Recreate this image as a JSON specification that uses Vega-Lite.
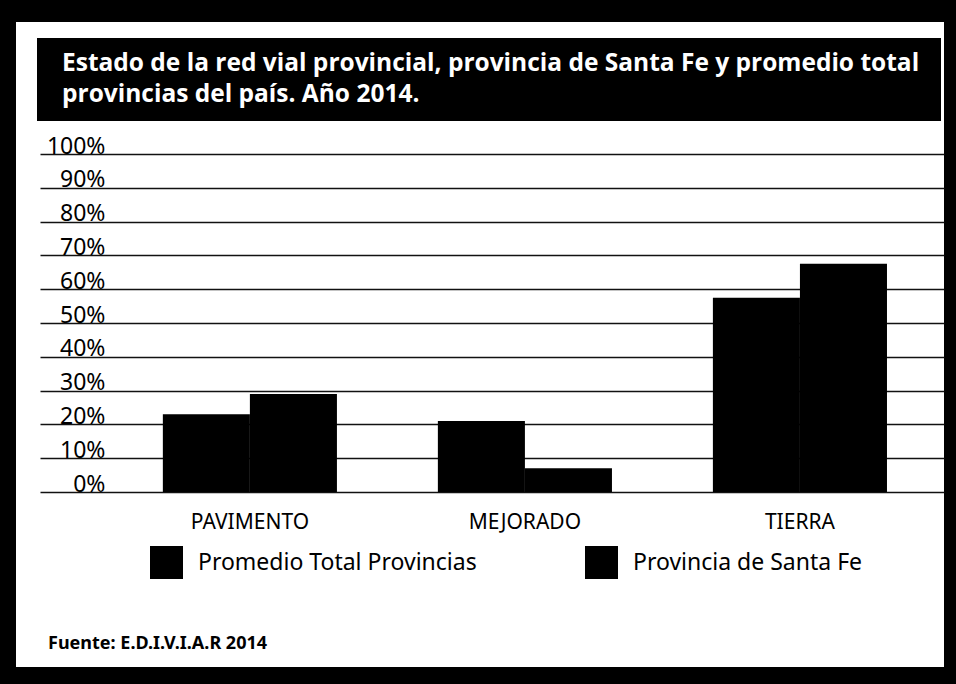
{
  "$schema": "https://vega.github.io/schema/vega-lite/v6.json",
  "background": "black",
  "padding": {"left": 16, "top": 22, "right": 12, "bottom": 17},
  "config": {"view": {"stroke": null}, "concat": {"spacing": 0}},
  "datasets": {
    "bars": [
      {"tipo": "PAVIMENTO", "serie": "Promedio Total Provincias", "valor": 0.23},
      {"tipo": "PAVIMENTO", "serie": "Provincia de Santa Fe", "valor": 0.29},
      {"tipo": "MEJORADO", "serie": "Promedio Total Provincias", "valor": 0.21},
      {"tipo": "MEJORADO", "serie": "Provincia de Santa Fe", "valor": 0.07},
      {"tipo": "TIERRA", "serie": "Promedio Total Provincias", "valor": 0.575},
      {"tipo": "TIERRA", "serie": "Provincia de Santa Fe", "valor": 0.675}
    ],
    "blank": []
  },
  "vconcat": [
    {
      "data": {"name": "blank"},
      "width": 928, "height": 16,
      "view": {"fill": "white", "stroke": null},
      "mark": {"type": "point", "opacity": 0},
      "encoding": {}
    },
    {
      "hconcat": [
        {
          "data": {"name": "blank"},
          "width": 21, "height": 83,
          "view": {"fill": "white", "stroke": null},
          "mark": {"type": "point", "opacity": 0},
          "encoding": {}
        },
        {
          "data": {"name": "blank"},
          "width": 904, "height": 83,
          "view": {"fill": "black", "stroke": null},
          "mark": {"type": "point", "opacity": 0},
          "encoding": {},
          "title": {
            "text": ["Estado de la red vial provincial, provincia de Santa Fe y promedio total", "provincias del país. Año 2014."],
            "orient": "top", "anchor": "start", "frame": "group", "baseline": "top",
            "offset": -69, "dx": 25, "color": "white", "font": "Open Sans", "fontSize": 24.5,
            "fontWeight": "bold", "lineHeight": 31
          }
        },
        {
          "data": {"name": "blank"},
          "width": 3, "height": 83,
          "view": {"fill": "white", "stroke": null},
          "mark": {"type": "point", "opacity": 0},
          "encoding": {}
        }
      ],
      "spacing": 0
    },
    {
      "hconcat": [
        {
          "data": {"name": "blank"},
          "width": 24, "height": 546,
          "view": {"fill": "white", "stroke": null},
          "mark": {"type": "point", "opacity": 0},
          "encoding": {}
        },
        {
          "data": {"name": "bars"},
          "width": 904, "height": 546,
          "view": {"fill": "white", "stroke": null},
          "title": {
            "text": "Fuente: E.D.I.V.I.A.R 2014",
            "orient": "bottom", "anchor": "start", "frame": "group", "baseline": "top",
            "offset": -32, "dx": 8, "color": "black", "font": "Noto Sans", "fontSize": 18, "fontWeight": "bold"
          },
          "mark": {"type": "bar"},
          "encoding": {
            "x": {
              "field": "tipo", "type": "nominal", "sort": ["PAVIMENTO", "MEJORADO", "TIERRA"],
              "scale": {"paddingInner": 0.367, "paddingOuter": 0.327, "align": 0.683},
              "axis": {
                "title": null, "orient": "bottom", "offset": -156, "domain": false, "ticks": false,
                "labelPadding": 0, "labelAngle": 0, "labelBaseline": "top", "labelFont": "Noto Sans",
                "labelFontSize": 21, "labelColor": "black", "grid": false
              }
            },
            "xOffset": {
              "field": "serie", "type": "nominal",
              "sort": ["Promedio Total Provincias", "Provincia de Santa Fe"],
              "scale": {"paddingInner": 0, "paddingOuter": 0}
            },
            "y": {
              "field": "valor", "type": "quantitative",
              "scale": {"domain": [0, 1], "range": [371, 33], "nice": false, "zero": true},
              "axis": {
                "title": null, "values": [0, 0.1, 0.2, 0.3, 0.4, 0.5, 0.6, 0.7, 0.8, 0.9, 1],
                "format": ".0%", "grid": true, "gridColor": "#111", "gridWidth": 1.5,
                "domain": false, "ticks": false, "tickSize": 0, "labelAlign": "right",
                "labelPadding": -65, "labelBaseline": "alphabetic", "labelOffset": -1,
                "labelFont": "Noto Sans", "labelFontSize": 23, "labelColor": "black"
              }
            },
            "fill": {
              "field": "serie", "type": "nominal",
              "sort": ["Promedio Total Provincias", "Provincia de Santa Fe"],
              "scale": {"range": ["black", "black"]},
              "legend": {
                "title": null, "orient": "none", "legendX": 134, "legendY": 524,
                "direction": "horizontal", "symbolType": "square", "symbolSize": 1089,
                "symbolStrokeWidth": 0, "labelFont": "Noto Sans", "labelFontSize": 23,
                "labelColor": "black", "labelOffset": 15, "columnPadding": 108,
                "padding": 0, "labelLimit": 400
              }
            }
          }
        }
      ],
      "spacing": 0
    }
  ],
  "spacing": 0
}
